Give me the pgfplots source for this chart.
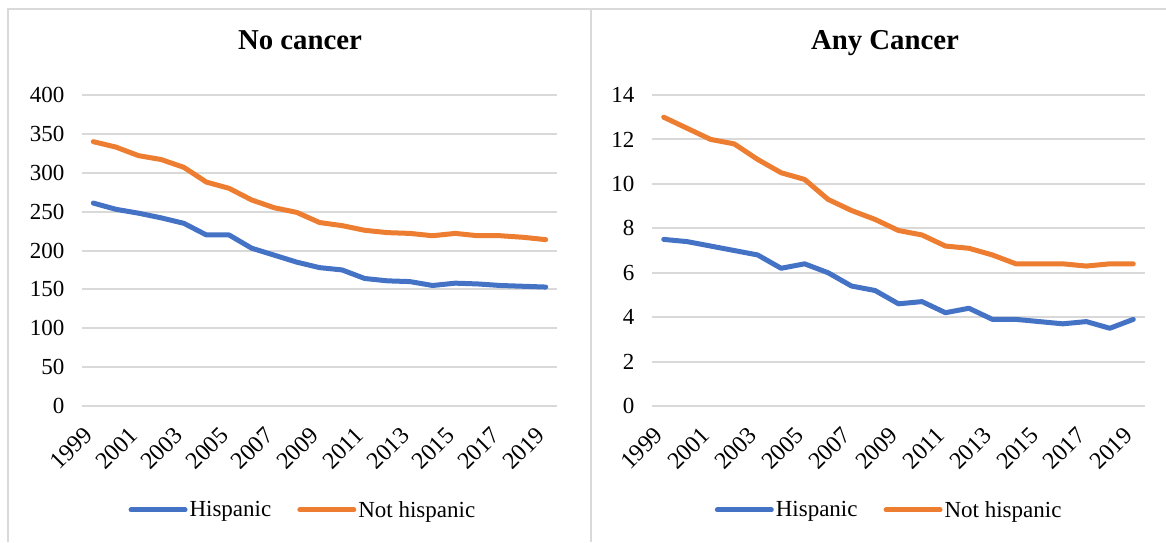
\documentclass[border=0pt]{standalone}
\usepackage{fontspec}
\setmainfont{Liberation Serif}
\usepackage{pgfplots}
\usepackage{pgfplotstable}
\pgfplotsset{compat=1.18}
\definecolor{hisp}{HTML}{4472C4}
\definecolor{nhisp}{HTML}{ED7D31}
\definecolor{gridc}{HTML}{D9D9D9}

% x: 0 = 1999 ... 20 = 2019
\pgfplotstableread{
x hisp nhisp
0  261 340
1  253 333
2  248 322
3  242 317
4  235 307
5  220 288
6  220 280
7  203 265
8  194 255
9  185 249
10 178 236
11 175 232
12 164 226
13 161 223
14 160 222
15 155 219
16 158 222
17 157 219
18 155 219
19 154 217
20 153 214
}\nocancer

\pgfplotstableread{
x hisp nhisp
0  7.5 13.0
1  7.4 12.5
2  7.2 12.0
3  7.0 11.8
4  6.8 11.1
5  6.2 10.5
6  6.4 10.2
7  6.0 9.3
8  5.4 8.8
9  5.2 8.4
10 4.6 7.9
11 4.7 7.7
12 4.2 7.2
13 4.4 7.1
14 3.9 6.8
15 3.9 6.4
16 3.8 6.4
17 3.7 6.4
18 3.8 6.3
19 3.5 6.4
20 3.9 6.4
}\anycancer

\pgfplotsset{panel/.style={
  scale only axis, height=311pt,
  xmin=-0.5, xmax=20.5, ymin=0,
  axis line style={draw=none}, major tick length=0pt,
  ymajorgrids, grid style={gridc, line width=2pt},
  xtick={0,2,...,20},
  xticklabels={1999,2001,2003,2005,2007,2009,2011,2013,2015,2017,2019},
  tick label style={font=\fontsize{23}{27}\selectfont},
  /pgf/number format/assume math mode=true,
  xticklabel style={font=\fontsize{24}{28}\selectfont, rotate=45, anchor=east, xshift=-18pt, yshift=-14.5pt},
  yticklabel style={anchor=east, xshift=-14pt},
  legend style={draw=none, fill=none, legend columns=2, anchor=center,
     font=\fontsize{23}{27}\selectfont, inner sep=0pt,
     nodes={inner sep=2pt},
     /tikz/every even column/.append style={column sep=24pt}},
  legend image code/.code={\draw[##1] (0pt,0pt) -- (54pt,0pt);},
  title style={font=\fontsize{28.8}{32}\selectfont\bfseries, anchor=base},
  every axis plot/.append style={line width=5pt, line join=round, line cap=round},
}}

\begin{document}
\begin{tikzpicture}
\path[use as bounding box] (0pt,0pt) rectangle (1166pt,-542pt);
\draw[gridc, line width=1.5pt] (8pt,-542pt) -- (8pt,-9pt) -- (1166pt,-9pt);
\draw[gridc, line width=1.5pt] (591pt,-9pt) -- (591pt,-542pt);

\begin{axis}[panel, width=475pt, at={(82pt,-406pt)}, anchor=south west,
  ymax=400, ytick={0,50,...,400},
  title={No cancer}, title style={at={(0.459,1.1286)}},
  legend style={at={(0.465,-0.334)}}]
\addplot[hisp] table[x=x, y=hisp] {\nocancer};
\addlegendentry{Hispanic}
\addplot[nhisp] table[x=x, y=nhisp] {\nocancer};
\addlegendentry{Not hispanic}
\end{axis}

\begin{axis}[panel, width=493pt, at={(652pt,-406pt)}, anchor=south west,
  ymax=14, ytick={0,2,...,14},
  title={Any Cancer}, title style={at={(0.4726,1.1286)}},
  legend style={at={(0.481,-0.334)}}]
\addplot[hisp] table[x=x, y=hisp] {\anycancer};
\addlegendentry{Hispanic}
\addplot[nhisp] table[x=x, y=nhisp] {\anycancer};
\addlegendentry{Not hispanic}
\end{axis}
\end{tikzpicture}
\end{document}
